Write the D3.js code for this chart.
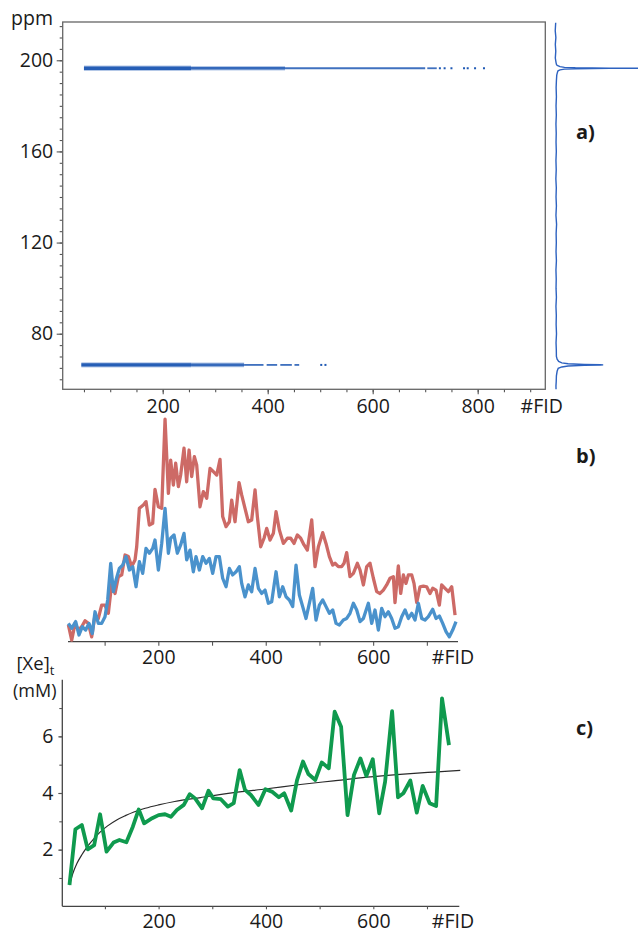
<!DOCTYPE html>
<html><head><meta charset="utf-8">
<script src="https://cdn.jsdelivr.net/npm/d3@7"></script>
<style>
body{margin:0;background:#fff}
svg{display:block}
text{font-family:"Open Sans",sans-serif;fill:#1a1a1a}
</style>
</head><body>
<svg id="chart" width="638" height="933"></svg>
<script>
// ---------------- DATA ----------------
// Panel a: 2D plot (ppm vs #FID)
const aXLabels = [200, 400, 600, 800];
const aYLabels = [80, 120, 160, 200];
const bandPpm = [196.5, 66.3];                 // upper, lower band positions (ppm)
// band segments: [fidStart, fidEnd, density]
const upperSegs = [[50, 254, 3], [254, 433, 2], [433, 700, 1], [704, 722, 1]];
const upperDots = [728, 737, 750, 774, 781, 795, 812];
const lowerSegs = [[45, 254, 3], [254, 355, 2], [355, 392, 1], [398, 418, 1], [424, 446, 1], [451, 460, 1]];
const lowerDots = [502, 510];
// projected spectrum (right of panel a)
const specPpm = [216.5, 213, 210, 207, 204, 201, 199, 198, 197.6, 197.2, 196.9, 196.7, 196.55, 196.5, 196.45, 196.3, 196.1, 195.8, 195.4, 194.8, 193.5, 191, 188, 184, 180, 176, 172, 168, 164, 160, 156, 152, 148, 144, 140, 136, 132, 128, 124, 120, 116, 112, 108, 104, 100, 96, 92, 88, 84, 80, 76, 73, 70, 68.8, 67.8, 67.2, 66.8, 66.5, 66.35, 66.3, 66.25, 66.1, 65.8, 65.4, 64.8, 63.5, 61.5, 59, 57, 55.6];
const specInt = [0.2, -0.3, 0.4, -0.2, 0.3, -0.2, 0.6, 1.2, 2.5, 5, 10, 22, 60, 100, 60, 22, 10, 5, 2.8, 2.2, 1.4, 1.0, 0.7, 1.0, 0.6, 0.9, 0.5, 0.8, 0.6, 0.9, 0.5, 0.8, 0.4, 0.9, 0.6, 1.0, 0.5, 1.2, 0.7, 0.9, 0.6, 1.0, 0.5, 0.8, 0.6, 1.0, 0.5, 0.9, 0.7, 1.1, 0.6, 0.9, 1.0, 1.8, 3.5, 7, 14, 32, 50, 53, 50, 32, 14, 7, 3.0, 1.8, 1.0, 0.8, 0.5, 0.6];

// Panel b: two signal intensities vs #FID (arbitrary units)
const bXLabels = [200, 400, 600];
const redFid = [32.5,38.7,44.9,51.1,57.3,63.5,69.7,75.9,82.1,88.3,94.5,100.7,106.9,113.2,119.4,125.6,131.8,138,144.2,150.4,156.6,159.7,164.7,172.1,177.1,183.3,189.5,193.8,200.1,206.3,212.5,218.7,223,228,232.3,237.3,241.6,247.8,252.8,257.2,262.1,267.1,271.4,277.6,283.8,290.1,296.3,302.5,308.7,314.9,319.8,326.1,332.3,336.6,342.8,350.3,355.2,361.4,367.6,373.8,380.1,384.4,390.6,396.8,401.8,408,414.2,419.2,425.4,432.8,440.3,446.5,452.7,458.9,465.1,471.3,477.5,485.6,491.8,498,506.1,512.2,518.5,524.7,529,535.2,541.4,545.8,550.7,556.9,563.2,570.6,575.6,581.8,588,594.2,600.4,606.6,612.8,619,625.2,631.4,637.6,640.7,646.9,651.3,656.3,661.2,665.6,671.8,676.1,681.1,687.3,693.5,699.7,705.9,710.9,717.1,723.3,727.6,733.9,740.1,746.3,752.5];
const redVal = [7.5,0.7,8.2,5.2,6.7,9.4,8.2,2.2,11.9,10.4,16.4,16.4,12.7,26.1,21.6,29.1,29.9,38.8,38.1,33.6,36.6,42.5,59.7,61.2,62.7,52.2,53,68.2,60.4,59.7,99.6,66.4,81.3,70.1,79.9,69.4,74.6,86.6,71.6,85.8,73.9,82.8,79.1,60.4,67.2,64.2,77.6,76.1,74.6,81.6,56,51.5,53.7,63.4,53.7,71.2,65.7,59.7,53.7,54.5,67.9,56,42.5,46.3,50.7,45.5,48.5,58.2,50,44,46.3,46.3,44,47.8,46.3,43.3,41,54.5,33.6,42.5,48.8,44,38.1,34.3,35.1,33.6,33.6,35.1,39.9,29.1,30.6,35.1,32.1,25.4,33.6,35.1,28.4,22.4,21.6,23.1,25.4,28.4,29.1,17.5,33.9,21.6,29.9,26.1,29.9,29.9,26.1,17.5,24.6,24.9,24.6,21.6,23.9,23.1,16.4,25.4,23.9,22.4,24.6,11.9];
const blueFid = [32.5,38.7,46.1,52.3,58.5,64.7,70.9,77.1,82.1,88.3,94.5,100.7,105.7,111.3,116.3,121.2,127.4,133.6,139.8,146.1,152.3,158.5,164.7,170.9,177.1,183.3,189.5,193.8,200.1,206.3,212.5,218.7,223,229.2,235.4,241.6,247.8,252.8,259,265.2,270.2,276.4,282.6,288.8,295,301.2,307.4,313.6,319.8,326.1,332.3,338.5,344.7,350.9,355.2,361.4,367.6,373.8,380.1,386.3,392.5,398.7,404.9,411.1,419.2,425.4,431.6,437.8,444,450.2,456.4,462.6,468.8,475,481.2,487.4,493.6,499.9,506.1,512.3,518.5,524.7,530.9,537.1,544.5,550.7,556.9,563.2,569.4,575.6,581.8,591.1,597.3,603.5,609.7,615.9,622.1,628.3,634.5,640.7,646.9,653.2,659.4,665.6,671.8,678,684.2,690.4,696.6,702.8,710.9,717.1,723.3,729.5,735.7,741.9,748.1,754.3];
const blueVal = [8.2,6,9,3,6.7,5.2,8.2,3.7,13.4,8.2,8.2,11.2,18.7,35.1,22.4,27.6,32.8,34.3,38.1,32.1,33.6,24.6,35.8,30.6,41.8,39.6,41.8,45.5,32.1,44,59.7,39.6,46.3,47.8,39.6,43.3,48.5,36.6,41,31.3,38.1,32.1,38.1,35.1,37.3,30.6,38.1,38.1,28.4,24.6,32.8,29.9,31.3,33.6,26.1,20.1,25.4,22.4,32.8,23.9,21.6,23.1,17.2,17.9,31.3,20.1,24.6,20.1,18.7,15.7,34.3,20.9,15.7,10.4,17.2,23.9,9.7,16.4,18.7,15.7,12.7,14.2,8.2,7.5,9.7,10.4,12.7,17.2,14.2,9,10.4,17.2,8.2,14.2,5.2,14.9,11.2,13.4,10.4,6,6.7,11.2,14.2,10.4,12.7,9.7,17.2,10.4,9.7,11.2,14.5,10.4,11.5,8.2,4.5,2.2,5.2,9];

// Panel c: [Xe]t (mM) vs #FID, with fitted curve
const cXLabels = [200, 400, 600];
const cYLabels = [2, 4, 6];
const xeFid = [34,45,57,68,80,91,103,116,127,140,152,163,173,188,200,212,223,234,247,258,268,281,293,302,316,329,340,351,361,372,386,399,411,424,434,447,458,469,479,492,504,517,528,540,552,564,576,587,599,611,622,635,646,656,669,681,692,705,717,728,741];
const xeVal = [0.75,2.72,2.87,2.01,2.16,3.25,1.93,2.25,2.34,2.26,2.81,3.42,2.93,3.11,3.22,3.25,3.16,3.40,3.58,3.96,3.81,3.46,4.08,3.81,3.78,3.52,3.64,4.81,4.11,3.93,3.58,4.13,4.05,3.85,3.99,3.38,4.46,5.11,4.67,4.46,5.08,4.87,6.87,6.34,3.22,4.64,5.22,4.60,5.19,3.28,4.40,6.89,3.85,3.99,4.44,3.31,4.25,3.64,3.54,7.34,5.69];
const fitFid = [34, 40, 48, 57, 67, 80, 91, 105, 122, 138, 154, 175, 200, 230, 278, 340, 402, 464, 526, 588, 650, 712, 762];
const fitVal = [0.75, 1.15, 1.52, 1.82, 2.1, 2.4, 2.62, 2.84, 3.05, 3.2, 3.33, 3.46, 3.58, 3.7, 3.84, 4.01, 4.15, 4.3, 4.43, 4.56, 4.66, 4.74, 4.8];

// ---------------- DRAW ----------------
const svg = d3.select("#chart");
const axisCol = "#555";
const fs = 19.5;

// ===== Panel a =====
const xA = d3.scaleLinear().domain([9.5, 928.8]).range([62.7, 545.3]);
const yA = d3.scaleLinear().domain([55.6, 216.8]).range([389.3, 22]);
const gA = svg.append("g");

function styleAxis(g) {
  g.selectAll("path.domain").remove();
  g.selectAll("line").attr("stroke", axisCol).attr("stroke-width", 1.1);
  g.selectAll("text").attr("font-size", fs).attr("fill", "#1a1a1a").attr("font-family", '"Open Sans",sans-serif');
}
gA.append("g").attr("transform", `translate(0,${yA.range()[0]})`)
  .call(d3.axisBottom(xA).tickValues(d3.range(50, 901, 50)).tickSize(3).tickFormat(""))
  .call(styleAxis);
gA.append("g").attr("transform", `translate(0,${yA.range()[0]})`)
  .call(d3.axisBottom(xA).tickValues(aXLabels).tickSize(5).tickPadding(4.6).tickFormat(d3.format("d")))
  .call(styleAxis);
gA.append("g").attr("transform", `translate(${xA.range()[0]},0)`)
  .call(d3.axisLeft(yA).tickValues(d3.range(60, 216, 5)).tickSize(3).tickFormat(""))
  .call(styleAxis);
gA.append("g").attr("transform", `translate(${xA.range()[0]},0)`)
  .call(d3.axisLeft(yA).tickValues(aYLabels).tickSize(6).tickPadding(3.5).tickFormat(d3.format("d")))
  .call(styleAxis);
gA.append("rect")
  .attr("x", xA.range()[0]).attr("y", yA.range()[1])
  .attr("width", xA.range()[1] - xA.range()[0]).attr("height", yA.range()[0] - yA.range()[1])
  .attr("fill", "none").attr("stroke", "#666").attr("stroke-width", 1.3);

const bandCol = "#1f59b4";
const widthByDensity = {3: 3.4, 2: 2.6, 1: 1.8};
function drawBand(ppm, segs, dots) {
  // faint halo of scattered points
  gA.selectAll(null).data(segs.filter(d => d[2] > 1)).enter().append("line")
    .attr("x1", d => xA(d[0])).attr("x2", d => xA(d[1]))
    .attr("y1", yA(ppm)).attr("y2", yA(ppm))
    .attr("stroke", "#5b86cc").attr("stroke-width", d => widthByDensity[d[2]] + 2)
    .attr("opacity", 0.45);
  gA.selectAll(null).data(segs).enter().append("line")
    .attr("x1", d => xA(d[0])).attr("x2", d => xA(d[1]))
    .attr("y1", yA(ppm)).attr("y2", yA(ppm))
    .attr("stroke", bandCol).attr("stroke-width", d => widthByDensity[d[2]])
    .attr("opacity", d => d[2] === 3 ? 0.95 : 0.85);
  gA.selectAll(null).data(dots).enter().append("rect")
    .attr("x", d => xA(d) - 1).attr("y", yA(ppm) - 1)
    .attr("width", 2).attr("height", 2).attr("fill", bandCol);
}
drawBand(bandPpm[0], upperSegs, upperDots);
drawBand(bandPpm[1], lowerSegs, lowerDots);

const xS = d3.scaleLinear().domain([0, 100]).range([555.5, 645.5]);
const spec = specPpm.map((p, i) => [p, specInt[i]]);
svg.append("path").datum(spec)
  .attr("d", d3.line().x(d => xS(d[1])).y(d => yA(d[0])))
  .attr("fill", "none").attr("stroke", "#2d62c0").attr("stroke-width", 1.4);

svg.append("text").attr("x", 53).attr("y", 25).attr("text-anchor", "end").attr("font-size", fs).text("ppm");
svg.append("text").attr("x", 541.7).attr("y", 412.7).attr("text-anchor", "middle").attr("font-size", fs).text("#FID");
svg.append("text").attr("x", 576).attr("y", 139).attr("font-size", 20).attr("font-weight", "bold").text("a)");

// ===== Panel b =====
const xB = d3.scaleLinear().domain([31.8, 758]).range([68, 458]);
const yB = d3.scaleLinear().domain([0, 100]).range([641.7, 418.3]);
const gB = svg.append("g");
gB.append("line").attr("x1", xB.range()[0]).attr("x2", xB.range()[1])
  .attr("y1", yB(0)).attr("y2", yB(0)).attr("stroke", "#444").attr("stroke-width", 1.3);
gB.append("g").attr("transform", `translate(0,${yB(0)})`)
  .call(d3.axisBottom(xB).tickValues(d3.range(100, 701, 100)).tickSize(4).tickPadding(4)
    .tickFormat(d => bXLabels.includes(d) ? d : ""))
  .call(styleAxis);
const lineB = d3.line().x(d => xB(d[0])).y(d => yB(d[1]));
gB.append("path").datum(redFid.map((f, i) => [f, redVal[i]]))
  .attr("d", lineB).attr("fill", "none").attr("stroke", "#cd6a66").attr("stroke-width", 3.3)
  .attr("stroke-linejoin", "round");
gB.append("path").datum(blueFid.map((f, i) => [f, blueVal[i]]))
  .attr("d", lineB).attr("fill", "none").attr("stroke", "#4a92cc").attr("stroke-width", 3.3)
  .attr("stroke-linejoin", "round");
svg.append("text").attr("x", 453).attr("y", 663.5).attr("text-anchor", "middle").attr("font-size", fs).text("#FID");
svg.append("text").attr("x", 576).attr("y", 463).attr("font-size", 20).attr("font-weight", "bold").text("b)");

// ===== Panel c =====
const xC = d3.scaleLinear().domain([20.6, 760.2]).range([62.3, 459.3]);
const yC = d3.scaleLinear().domain([0, 8]).range([906.3, 679.7]);
const gC = svg.append("g");
gC.append("line").attr("x1", xC.range()[0]).attr("x2", xC.range()[1])
  .attr("y1", yC(0)).attr("y2", yC(0)).attr("stroke", "#444").attr("stroke-width", 1.3);
gC.append("line").attr("x1", xC.range()[0]).attr("x2", xC.range()[0])
  .attr("y1", yC(0)).attr("y2", yC(8)).attr("stroke", "#444").attr("stroke-width", 1.3);
gC.append("g").attr("transform", `translate(0,${yC(0)})`)
  .call(d3.axisBottom(xC).tickValues(d3.range(100, 701, 100)).tickSize(3).tickPadding(4.9)
    .tickFormat(d => cXLabels.includes(d) ? d : ""))
  .call(styleAxis);
gC.append("g").attr("transform", `translate(${xC.range()[0]},0)`)
  .call(d3.axisLeft(yC).tickValues(d3.range(1, 8, 1)).tickSize(3).tickFormat(""))
  .call(styleAxis);
gC.append("g").attr("transform", `translate(${xC.range()[0]},0)`)
  .call(d3.axisLeft(yC).tickValues(cYLabels).tickSize(4).tickPadding(5).tickFormat(d3.format("d")))
  .call(styleAxis);
const lineC = d3.line().x(d => xC(d[0])).y(d => yC(d[1]));
gC.append("path").datum(fitFid.map((f, i) => [f, fitVal[i]]))
  .attr("d", d3.line().x(d => xC(d[0])).y(d => yC(d[1])).curve(d3.curveMonotoneX))
  .attr("fill", "none").attr("stroke", "#2a2a2a").attr("stroke-width", 1.2);
gC.append("path").datum(xeFid.map((f, i) => [f, xeVal[i]]))
  .attr("d", lineC).attr("fill", "none").attr("stroke", "#0f9a4e").attr("stroke-width", 3.8)
  .attr("stroke-linejoin", "round");
const yl = svg.append("text").attr("x", 16.5).attr("y", 670).attr("font-size", 18.5);
yl.append("tspan").text("[Xe]");
yl.append("tspan").attr("font-size", 13).attr("dy", 5).text("t");
svg.append("text").attr("x", 13).attr("y", 697).attr("font-size", 18).text("(mM)");
svg.append("text").attr("x", 453).attr("y", 928).attr("text-anchor", "middle").attr("font-size", fs).text("#FID");
svg.append("text").attr("x", 576).attr("y", 735).attr("font-size", 20).attr("font-weight", "bold").text("c)");
</script>
</body></html>
